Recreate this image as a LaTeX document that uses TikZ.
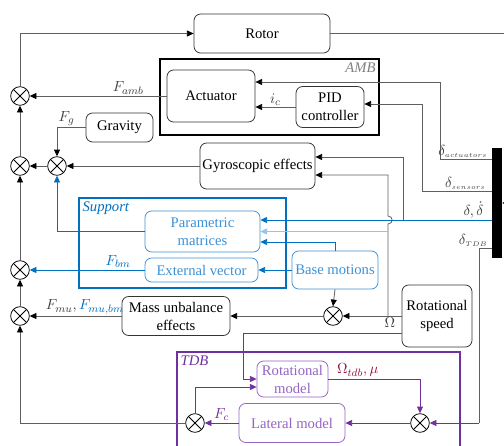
\documentclass[tikz,border=0pt]{standalone}
\usepackage{fontspec}
\setmainfont{LiberationSerif}[Extension=.ttf, UprightFont=*-Regular, ItalicFont=*-Italic, BoldFont=*-Bold, BoldItalicFont=*-BoldItalic]
\usetikzlibrary{arrows.meta}
\definecolor{lgray}{RGB}{95,95,95}
\definecolor{bline}{RGB}{0,112,192}
\definecolor{bbox}{RGB}{60,145,215}
\definecolor{blight}{RGB}{150,195,235}
\definecolor{pline}{RGB}{112,48,160}
\definecolor{pbox}{RGB}{150,100,195}
\definecolor{tdbred}{RGB}{150,20,70}

\begin{document}
\begin{tikzpicture}[x=0.75pt, y=-0.75pt, font=\rmfamily\fontsize{11}{13.5}\selectfont,
  blk/.style={draw=black!80, rounded corners=5pt, align=center, inner sep=1pt, line width=0.6pt},
  bblk/.style={blk, draw=bbox, text=bbox},
  pblk/.style={blk, draw=pbox, text=pbox},
  sumnode/.style={circle, draw=black, line width=0.6pt, minimum size=14pt, inner sep=0pt,
    path picture={\draw[line width=0.6pt] (path picture bounding box.north west) -- (path picture bounding box.south east)
      (path picture bounding box.north east) -- (path picture bounding box.south west);}},
  frame/.style={draw, line width=1pt, inner sep=0pt},
  ln/.style={draw=lgray, line width=0.6pt},
  arr/.style={ln, -{Triangle[length=5pt, width=4.5pt, color=black]}},
  barr/.style={draw=bline, line width=0.6pt, -{Triangle[length=5pt, width=4.5pt]}},
  parr/.style={draw=pline, line width=0.6pt, -{Triangle[length=5pt, width=4.5pt]}},
  lbl/.style={inner sep=1pt, text=black!75}]
\useasboundingbox[fill=white] (0,0) rectangle (504,446);

% frames
\node[frame, minimum width=164.25pt, minimum height=57pt, line width=1.2pt] (amb) at (269.5,97) {};
\node[anchor=north east, text=gray, inner sep=3pt] at (amb.north east) {\textit{AMB}};
\node[frame, draw=bline, minimum width=155.25pt, minimum height=67.5pt] (sup) at (182.5,243) {};
\node[anchor=north west, text=bline, inner sep=3pt] at (sup.north west) {\textit{Support}};
\node[frame, draw=pline, minimum width=212.25pt, minimum height=81pt] (tdb) at (318.5,406) {};
\node[anchor=north west, text=pline, inner sep=3pt] at (tdb.north west) {\textit{TDB}};

% blocks
\node[blk, minimum width=102pt, minimum height=29.25pt] (rotor) at (262,33.5) {Rotor};
\node[blk, minimum width=66pt, minimum height=39pt] (act) at (211,96) {Actuator};
\node[blk, minimum width=51pt, minimum height=30.75pt] (pid) at (330,107) {PID\\controller};
\node[blk, minimum width=50.25pt, minimum height=21.75pt] (grav) at (119.5,127.5) {Gravity};
\node[blk, minimum width=86.25pt, minimum height=34.5pt] (gyro) at (257.5,166) {Gyroscopic effects};
\node[bblk, minimum width=86.25pt, minimum height=30.75pt] (param) at (202.5,231.5) {Parametric\\matrices};
\node[bblk, minimum width=84.75pt, minimum height=18pt] (ext) at (201.5,270) {External vector};
\node[bblk, minimum width=64.5pt, minimum height=28.5pt] (base) at (335,270) {Base motions};
\node[blk, minimum width=81pt, minimum height=29.25pt] (mass) at (176,316) {Mass unbalance\\effects};
\node[blk, minimum width=52.5pt, minimum height=46.5pt] (rspeed) at (437,316) {Rotational\\speed};
\node[pblk, minimum width=53.25pt, minimum height=27pt] (rotm) at (292.5,379) {Rotational\\model};
\node[pblk, minimum width=79.5pt, minimum height=29.25pt] (lat) at (292,423) {Lateral model};
\node[fill=black, minimum width=7.5pt, minimum height=82.5pt, inner sep=0pt] (bar) at (497,203) {};

% sums
\node[sumnode] (s1) at (20,96) {};
\node[sumnode] (s2) at (20,166) {};
\node[sumnode] (s3) at (20,270) {};
\node[sumnode] (s4) at (20,316) {};
\node[sumnode] (s5) at (57,166) {};
\node[sumnode] (s6) at (333,316) {};
\node[sumnode] (s7) at (195,423) {};
\node[sumnode] (s8) at (420,423) {};

% taps on the bar
\coordinate (tact) at (492,159);
\coordinate (tsen) at (492,191);
\coordinate (tdd) at (492,220);
\coordinate (ttdb) at (492,248);
\coordinate (dbr) at (403,220);
\coordinate (om) at (388,316);
\coordinate (tdbc) at (479,423);

% rotor loop
\draw[arr] (s1.north) |- (rotor.west);
\draw[arr] (rotor.east) -- (530,33.5) |- (bar.east);
\draw[arr] (s2.north) -- (s1.south);
\draw[arr] (s3.north) -- (s2.south);
\draw[arr] (s4.north) -- (s3.south);
\draw[arr] (s7.west) -| (s4.south);

% AMB
\draw[arr] (tact) -| (440,82) node[pos=0.28, above, lbl] {$\delta_{\scriptscriptstyle actuators}$} -- (act.east |- 0,82);
\draw[arr] (tsen) -| (422,104) node[pos=0.19, above, lbl] {$\delta_{\scriptscriptstyle sensors}$} -- (pid.east |- 0,104);
\draw[arr] (pid.west) -- (act.east |- pid.west) node[midway, above, lbl] {$i_c$};
\draw[arr] (act.west) -- (s1.east) node[pos=0.28, above, lbl] {$F_{amb}$};

% gravity, gyroscopic
\draw[arr] (grav.west) -| (s5.north) node[pos=0.5, above right, lbl] {$F_g$};
\draw[arr] (gyro.west) -- (s5.east);
\draw[arr] (s5.west) -- (s2.east);
\draw[arr] (dbr) |- (gyro.east |- 0,157);
\draw[arr] (om) -- (388,224) .. controls (393.5,224) and (393.5,216) .. (388,216) |- (gyro.east |- 0,175);

% support
\draw[barr] (tdd) -- (param.east |- tdd) node[pos=0.08, above, lbl] {$\delta,\dot{\delta}$};
\draw[barr, draw=blight] (param.east -| om) -- (param.east);
\draw[barr] (base.north) |- (param.east |- 0,242);
\draw[barr] (base.west) -- (ext.east);
\draw[barr] (param.west) -| (s5.south);
\draw[barr] (ext.west) -- (s3.east) node[pos=0.23, above, text=bline, inner sep=1.5pt] {$F_{bm}$};

% mass unbalance
\draw[arr] (rspeed.west) -- (s6.east) node[pos=0.2, below, lbl] {$\Omega$};
\draw[arr] (base.south) -- (s6.north);
\draw[arr] (s6.west) -- (mass.east);
\draw[arr] (mass.west) -- (s4.east) node[pos=0.4, above, lbl] {$F_{mu},{\color{bline}F_{mu,bm}}$};

% TDB
\draw[parr] (rspeed.west |- 0,333) -| (243,379) -- (rotm.west);
\draw[parr] (s7.north) |- (rotm.west |- 0,387);
\draw[parr] (rotm.east) -| (s8.north) node[pos=0.16, above, text=tdbred, inner sep=1.5pt] {$\Omega_{tdb},\mu$};
\draw[parr] (s8.west) -- (lat.east);
\draw[parr] (lat.west) -- (s7.east) node[midway, above, text=pline, inner sep=1.5pt] {$F_c$};
\draw[ln] (ttdb) node[above left, lbl, xshift=-2pt] {$\delta_{\scriptscriptstyle TDB}$} -| (tdbc);
\draw[parr] (tdbc) -- (s8.east);

\end{tikzpicture}
\end{document}
